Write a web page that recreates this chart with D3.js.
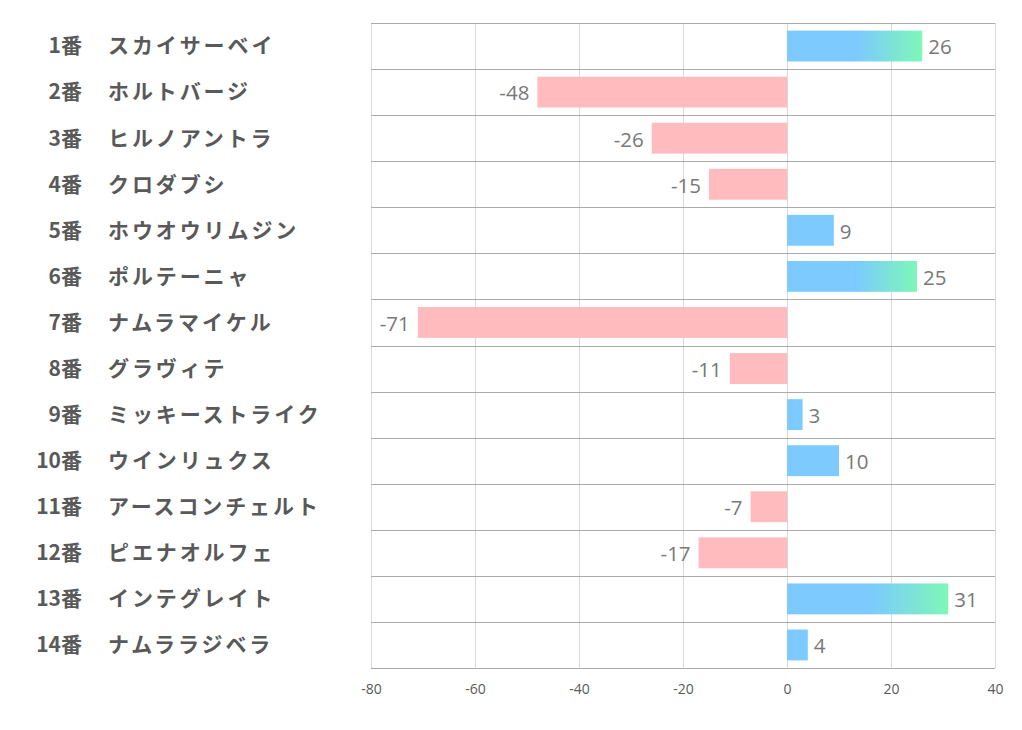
<!DOCTYPE html>
<html><head><meta charset="utf-8">
<script src="https://cdn.jsdelivr.net/npm/d3@7"></script>
<style>body{margin:0;background:#fff;}svg{display:block;}</style>
</head><body>
<svg id="c" width="1022" height="730"></svg>
<script>
const numbers = ["1番","2番","3番","4番","5番","6番","7番","8番","9番","10番","11番","12番","13番","14番"];
const names = ["スカイサーベイ","ホルトバージ","ヒルノアントラ","クロダブシ","ホウオウリムジン","ポルテーニャ","ナムラマイケル","グラヴィテ","ミッキーストライク","ウインリュクス","アースコンチェルト","ピエナオルフェ","インテグレイト","ナムララジベラ"];
const values = [26,-48,-26,-15,9,25,-71,-11,3,10,-7,-17,31,4];
const xTicks = [-80,-60,-40,-20,0,20,40];

(function(){
const svg = d3.select("#c");
const pL = 371, pR = 995, pT = 23, pB = 668;
const x = d3.scaleLinear().domain([-80,40]).range([pL,pR]);
const y = d3.scaleBand().domain(numbers).range([pT,pB]).paddingInner(0.33).paddingOuter(0.165);
const rowY = d3.scaleBand().domain(numbers).range([pT,pB]);

const defs = svg.append("defs");
const grad = defs.append("linearGradient").attr("id","g").attr("x1","0").attr("x2","1").attr("y1","0").attr("y2","0");
grad.append("stop").attr("offset","0").attr("stop-color","#7ccaff");
grad.append("stop").attr("offset","0.52").attr("stop-color","#7ccaff");
grad.append("stop").attr("offset","1").attr("stop-color","#7ef7b7");

// vertical grid
svg.append("g").selectAll("line").data(xTicks).join("line")
  .attr("x1",d=>Math.round(x(d))+0.5).attr("x2",d=>Math.round(x(d))+0.5).attr("y1",pT).attr("y2",pB)
  .attr("stroke","#d9d9d9").attr("stroke-width",1);
// horizontal separators
const hs = numbers.map(n=>rowY(n)).concat([pB]);
svg.append("g").selectAll("line").data(hs).join("line")
  .attr("x1",pL).attr("x2",pR).attr("y1",d=>Math.round(d)+0.5).attr("y2",d=>Math.round(d)+0.5)
  .attr("stroke","#ababab").attr("stroke-width",1);

// bars
svg.append("g").selectAll("rect").data(values).join("rect")
  .attr("x",(d)=>x(Math.min(0,d))).attr("width",d=>Math.abs(x(d)-x(0)))
  .attr("y",(d,i)=>y(numbers[i])).attr("height",y.bandwidth())
  .attr("fill",d=> d<0 ? "#ffbbbe" : (d>=20 ? "url(#g)" : "#7ccaff"));

// value labels
svg.append("g").selectAll("text").data(values).join("text")
  .attr("x",d=> d<0 ? x(d)-8 : x(d)+6)
  .attr("y",(d,i)=>y(numbers[i])+y.bandwidth()/2+1)
  .attr("dy","0.36em")
  .attr("text-anchor",d=>d<0?"end":"start")
  .attr("font-family","'Open Sans','Noto Sans',sans-serif").attr("font-size",20.5)
  .attr("fill","#787878").text(d=>d);

// category labels
const lab = svg.append("g").attr("font-family","'Noto Sans CJK JP',sans-serif").attr("font-weight","bold").attr("fill","#595959");
lab.selectAll("text.n").data(numbers).join("text").attr("class","n")
  .attr("x",82).attr("y",d=>rowY(d)+rowY.bandwidth()/2).attr("dy","0.35em")
  .attr("font-size",21)
  .attr("text-anchor","end").text(d=>d);
lab.selectAll("text.m").data(names).join("text").attr("class","m")
  .attr("x",108).attr("y",(d,i)=>rowY(numbers[i])+rowY.bandwidth()/2).attr("dy","0.35em")
  .attr("font-size",21).attr("letter-spacing","2.9px")
  .text(d=>d);

// x axis
const ax = svg.append("g").attr("transform",`translate(0,${pB})`)
  .call(d3.axisBottom(x).tickValues(xTicks).tickFormat(d=>String(d)).tickSize(0).tickPadding(16));
ax.select(".domain").remove();
ax.selectAll("text").attr("font-family","'Open Sans','Noto Sans',sans-serif").attr("font-size",14).attr("fill","#595959");
})();
</script>
</body></html>
